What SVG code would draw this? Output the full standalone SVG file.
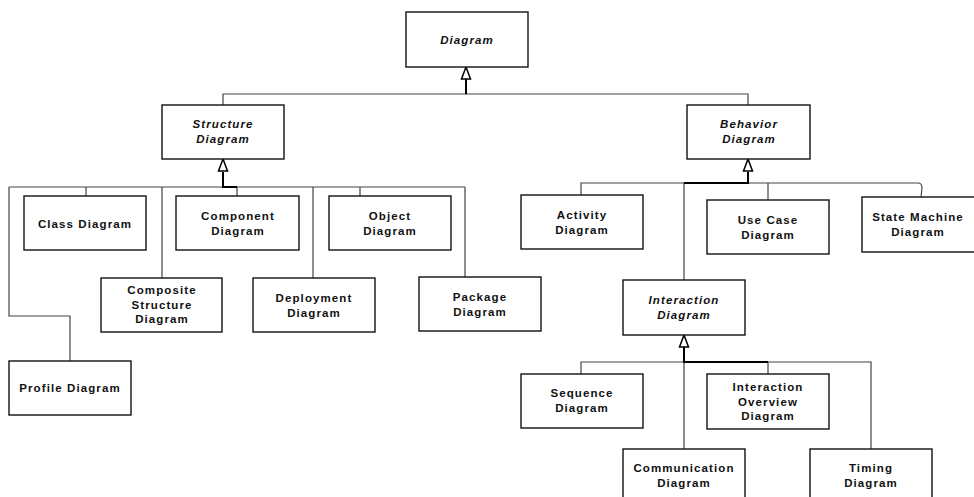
<svg xmlns="http://www.w3.org/2000/svg" width="974" height="497" viewBox="0 0 974 497">
<style>
.box{fill:#fff;stroke:#111;stroke-width:1.4}
.t{font-family:"Liberation Sans",Arial,sans-serif;font-size:11.5px;font-weight:bold;letter-spacing:1.1px;fill:#111;text-anchor:middle}
.i{font-style:italic}
.c{fill:none;stroke:#444;stroke-width:1.2}
.s{fill:none;stroke:#000;stroke-width:2}
.a{fill:#fff;stroke:#000;stroke-width:1.5}
</style>
<rect width="974" height="497" fill="#fff"/>
<g id="connectors">
  <path class="c" d="M223 105 V94 H748 V105"/>
  <path class="s" d="M466 79 V94"/>
  <polygon class="a" points="466,67 461.5,79 470.5,79"/>
  <!-- structure -->
  <path class="c" d="M9 187 H465 M9 187 V316 H70 V361 M86 187 V196 M162 187 V278 M237 187 V196 M313 187 V278 M360 187 V196 M465 187 V277"/>
  <path class="s" d="M223 172 V187 H237"/>
  <polygon class="a" points="223,159 218.5,171 227.5,171"/>
  <!-- behavior -->
  <path class="c" d="M581 195 V183 H918 Q922 183 922 188 L921 197 M684 183 V280 M768 183 V200"/>
  <path class="s" d="M748 172 V183 H684"/>
  <polygon class="a" points="748,159 743.5,171 752.5,171"/>
  <!-- interaction -->
  <path class="c" d="M581 374 V362 H871 V449 M684 362 V449 M768 362 V374"/>
  <path class="s" d="M684 347 V362 H768"/>
  <polygon class="a" points="684,335 679.5,347 688.5,347"/>
</g>
<g id="diagram"><rect class="box" x="406" y="12" width="122" height="55"/><text class="t i" x="467" y="44">Diagram</text></g>
<g id="structure"><rect class="box" x="162" y="105" width="122" height="54"/><text class="t i" x="223" y="128">Structure</text><text class="t i" x="223" y="143">Diagram</text></g>
<g id="behavior"><rect class="box" x="687" y="105" width="123" height="54"/><text class="t i" x="749" y="128">Behavior</text><text class="t i" x="749" y="143">Diagram</text></g>
<g id="class"><rect class="box" x="24" y="196" width="122" height="54"/><text class="t" x="85" y="227.5">Class Diagram</text></g>
<g id="component"><rect class="box" x="176" y="196" width="123" height="54"/><text class="t" x="238" y="220">Component</text><text class="t" x="238" y="234.5">Diagram</text></g>
<g id="object"><rect class="box" x="329" y="196" width="122" height="54"/><text class="t" x="390" y="220">Object</text><text class="t" x="390" y="234.5">Diagram</text></g>
<g id="composite"><rect class="box" x="101" y="278" width="121" height="54"/><text class="t" x="162" y="294">Composite</text><text class="t" x="162" y="308.5">Structure</text><text class="t" x="162" y="323">Diagram</text></g>
<g id="deployment"><rect class="box" x="253" y="278" width="122" height="54"/><text class="t" x="314" y="302">Deployment</text><text class="t" x="314" y="316.5">Diagram</text></g>
<g id="package"><rect class="box" x="419" y="277" width="122" height="54"/><text class="t" x="480" y="301">Package</text><text class="t" x="480" y="315.5">Diagram</text></g>
<g id="profile"><rect class="box" x="9" y="361" width="122" height="54"/><text class="t" x="70" y="392">Profile Diagram</text></g>
<g id="activity"><rect class="box" x="521" y="195" width="122" height="54"/><text class="t" x="582" y="219">Activity</text><text class="t" x="582" y="233.5">Diagram</text></g>
<g id="usecase"><rect class="box" x="707" y="200" width="122" height="54"/><text class="t" x="768" y="224">Use Case</text><text class="t" x="768" y="238.5">Diagram</text></g>
<g id="statemachine"><rect class="box" x="862" y="197" width="122" height="55"/><text class="t" x="918" y="221">State Machine</text><text class="t" x="918" y="235.5">Diagram</text></g>
<g id="interaction"><rect class="box" x="623" y="280" width="122" height="55"/><text class="t i" x="684" y="304">Interaction</text><text class="t i" x="684" y="318.5">Diagram</text></g>
<g id="sequence"><rect class="box" x="521" y="374" width="122" height="54"/><text class="t" x="582" y="397">Sequence</text><text class="t" x="582" y="411.5">Diagram</text></g>
<g id="overview"><rect class="box" x="707" y="374" width="122" height="55"/><text class="t" x="768" y="391">Interaction</text><text class="t" x="768" y="405.5">Overview</text><text class="t" x="768" y="420">Diagram</text></g>
<g id="communication"><rect class="box" x="623" y="449" width="122" height="55"/><text class="t" x="684" y="472">Communication</text><text class="t" x="684" y="486.5">Diagram</text></g>
<g id="timing"><rect class="box" x="810" y="449" width="122" height="55"/><text class="t" x="871" y="472">Timing</text><text class="t" x="871" y="486.5">Diagram</text></g>
</svg>
